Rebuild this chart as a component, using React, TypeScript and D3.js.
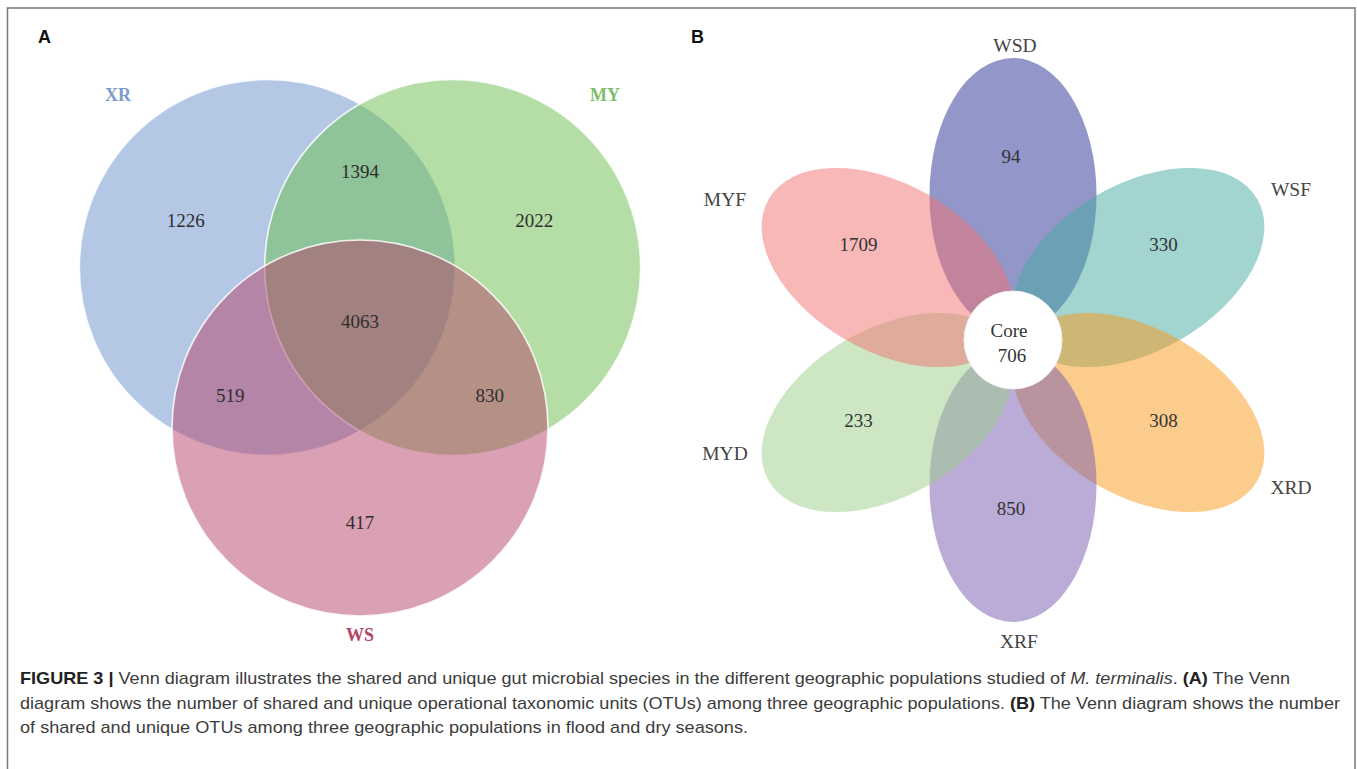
import { useEffect, useRef } from 'react';
import * as d3 from 'd3';

// Panel A: three-set Venn
const vennSets = ['XR', 'MY', 'WS'];
const vennColors = ['#6991cd', '#69bd4b', '#b54169'];
const vennLabelColors = ['#7d9bcd', '#7dbd6b', '#b4466e'];
const vennUnique = [1226, 2022, 417];
// pairs in order XR∩MY, MY∩WS, WS∩XR
const vennPairs = [1394, 830, 519];
const vennCore = 4063;

// Panel B: six-petal flower
const petalSets = ['WSD', 'WSF', 'XRD', 'XRF', 'MYD', 'MYF'];
const petalColors = ['#252d91', '#45a9a1', '#f99919', '#7559af', '#9bcd89', '#f17171'];
const petalValues = [94, 330, 308, 850, 233, 1709];
const coreLabel = 'Core';
const coreValue = 706;

const W = 1357;
const H = 769;

export default function App() {
  const svgRef = useRef<SVGSVGElement>(null);

  useEffect(() => {
    if (!svgRef.current) return;
    const svg = d3.select(svgRef.current);
    svg.selectAll('*').remove();

    // frame
    svg.append('rect')
      .attr('x', 7.5).attr('y', 8)
      .attr('width', 1347.5).attr('height', 800)
      .attr('fill', 'none')
      .attr('stroke', '#777')
      .attr('stroke-width', 1.5);

    // panel letters
    svg.append('text').attr('x', 38).attr('y', 43).text('A')
      .attr('font-family', 'Liberation Sans, Arial, sans-serif')
      .attr('font-weight', 'bold').attr('font-size', 18).attr('fill', '#111');
    svg.append('text').attr('x', 691).attr('y', 43).text('B')
      .attr('font-family', 'Liberation Sans, Arial, sans-serif')
      .attr('font-weight', 'bold').attr('font-size', 18).attr('fill', '#111');

    // ---------- Panel A ----------
    const ca = { x: 360, y: 321 };
    const dist = 107;
    const r = 188;
    const angleA = d3.scaleOrdinal<string, number>()
      .domain(vennSets)
      .range([-150, -30, 90].map(a => a * Math.PI / 180));
    const colorA = d3.scaleOrdinal<string, string>().domain(vennSets).range(vennColors);
    const labelColorA = d3.scaleOrdinal<string, string>().domain(vennSets).range(vennLabelColors);

    const centers = vennSets.map(s => ({
      name: s,
      x: ca.x + dist * Math.cos(angleA(s)),
      y: ca.y + dist * Math.sin(angleA(s)),
    }));

    const gA = svg.append('g');
    gA.selectAll('circle')
      .data(centers)
      .join('circle')
      .attr('cx', d => d.x)
      .attr('cy', d => d.y)
      .attr('r', r)
      .attr('fill', d => colorA(d.name))
      .attr('fill-opacity', 0.5)
      .attr('stroke', '#fff')
      .attr('stroke-opacity', 0.85)
      .attr('stroke-width', 1.6);

    const numFont = 'Liberation Serif, Times New Roman, serif';
    const numLabels: { x: number; y: number; v: number }[] = [];
    centers.forEach((c, i) => {
      numLabels.push({
        x: c.x + 0.88 * (c.x - ca.x),
        y: c.y + 0.88 * (c.y - ca.y),
        v: vennUnique[i],
      });
      const o = centers[(i + 1) % 3];
      const other = centers[(i + 2) % 3];
      const mx = (c.x + o.x) / 2;
      const my = (c.y + o.y) / 2;
      numLabels.push({
        x: mx + 0.6 * (mx - other.x),
        y: my + 0.6 * (my - other.y),
        v: vennPairs[i],
      });
    });
    numLabels.push({ x: ca.x, y: ca.y, v: vennCore });

    gA.selectAll('text.num')
      .data(numLabels)
      .join('text')
      .attr('class', 'num')
      .attr('x', d => d.x)
      .attr('y', d => d.y)
      .attr('text-anchor', 'middle')
      .attr('dominant-baseline', 'central')
      .attr('font-family', numFont)
      .attr('font-size', 19)
      .attr('fill', '#2e2e2e')
      .text(d => d.v);

    const setLabelPos: Record<string, [number, number]> = {
      XR: [118, 95], MY: [605, 95], WS: [360, 635],
    };
    gA.selectAll('text.set')
      .data(vennSets)
      .join('text')
      .attr('class', 'set')
      .attr('x', d => setLabelPos[d][0])
      .attr('y', d => setLabelPos[d][1])
      .attr('text-anchor', 'middle')
      .attr('dominant-baseline', 'central')
      .attr('font-family', numFont)
      .attr('font-weight', 'bold')
      .attr('font-size', 18)
      .attr('fill', d => labelColorA(d))
      .text(d => d);

    // ---------- Panel B ----------
    const cb = { x: 1013, y: 340 };
    const petalDist = 145;
    const pa = 137;
    const pb = 83.5;
    const angleB = d3.scaleOrdinal<string, number>()
      .domain(petalSets)
      .range([-90, -30, 30, 90, 150, 210]);
    const colorB = d3.scaleOrdinal<string, string>().domain(petalSets).range(petalColors);

    const gB = svg.append('g').attr('transform', `translate(${cb.x},${cb.y})`);
    gB.selectAll('ellipse')
      .data(petalSets)
      .join('ellipse')
      .attr('transform', d => `rotate(${angleB(d)}) translate(${petalDist},0)`)
      .attr('rx', pa)
      .attr('ry', pb)
      .attr('fill', d => colorB(d))
      .attr('fill-opacity', 0.5);

    const numR = 176;
    gB.selectAll('text.num')
      .data(petalSets)
      .join('text')
      .attr('class', 'num')
      .attr('x', d => numR * Math.cos(angleB(d) * Math.PI / 180) - 2)
      .attr('y', d => numR * Math.sin(angleB(d) * Math.PI / 180) - 8)
      .attr('text-anchor', 'middle')
      .attr('dominant-baseline', 'central')
      .attr('font-family', numFont)
      .attr('font-size', 19)
      .attr('fill', '#333')
      .text((d, i) => petalValues[i]);

    const petalLabelPos: Record<string, [number, number]> = {
      WSD: [1015, 45], WSF: [1291, 189], XRD: [1291, 487],
      XRF: [1019, 641], MYD: [725, 453], MYF: [725, 199],
    };
    svg.selectAll('text.petal')
      .data(petalSets)
      .join('text')
      .attr('class', 'petal')
      .attr('x', d => petalLabelPos[d][0])
      .attr('y', d => petalLabelPos[d][1])
      .attr('text-anchor', 'middle')
      .attr('dominant-baseline', 'central')
      .attr('font-family', numFont)
      .attr('font-size', 19.5)
      .attr('fill', '#444')
      .text(d => d);

    gB.append('circle')
      .attr('r', 49)
      .attr('fill', '#fff')
      .attr('stroke', '#f2f2f2')
      .attr('stroke-width', 1);
    gB.append('text')
      .attr('x', -4).attr('y', -10)
      .attr('text-anchor', 'middle')
      .attr('dominant-baseline', 'central')
      .attr('font-family', numFont)
      .attr('font-size', 19)
      .attr('fill', '#333')
      .text(coreLabel);
    gB.append('text')
      .attr('x', -1).attr('y', 15)
      .attr('text-anchor', 'middle')
      .attr('dominant-baseline', 'central')
      .attr('font-family', numFont)
      .attr('font-size', 19)
      .attr('fill', '#333')
      .text(coreValue);

    // ---------- caption ----------
    const capFont = 'Liberation Sans, Arial, sans-serif';
    const lines: { len: number; parts: [string, string][] }[] = [
      {
        len: 1270,
        parts: [
          ['b', 'FIGURE 3 |'],
          ['n', ' Venn diagram illustrates the shared and unique gut microbial species in the different geographic populations studied of '],
          ['i', 'M. terminalis'],
          ['n', '. '],
          ['b', '(A)'],
          ['n', ' The Venn'],
        ],
      },
      {
        len: 1320,
        parts: [
          ['n', 'diagram shows the number of shared and unique operational taxonomic units (OTUs) among three geographic populations. '],
          ['b', '(B)'],
          ['n', ' The Venn diagram shows the number'],
        ],
      },
      {
        len: 728,
        parts: [
          ['n', 'of shared and unique OTUs among three geographic populations in flood and dry seasons.'],
        ],
      },
    ];
    const cap = svg.append('g');
    lines.forEach((ln, i) => {
      const t = cap.append('text')
        .attr('x', 20)
        .attr('y', 684 + i * 24.5)
        .attr('font-family', capFont)
        .attr('font-size', 17)
        .attr('fill', '#3c3c3c')
        .attr('textLength', ln.len)
        .attr('lengthAdjust', 'spacingAndGlyphs')
        .style('white-space', 'pre');
      ln.parts.forEach(([k, s]) => {
        const sp = t.append('tspan').text(s);
        if (k === 'b') sp.attr('font-weight', 'bold').attr('fill', '#222');
        if (k === 'i') sp.attr('font-style', 'italic');
      });
    });
  }, []);

  return (
    <svg
      ref={svgRef}
      width={W}
      height={H}
      style={{ position: 'absolute', left: 0, top: 0, background: '#fff' }}
    />
  );
}
